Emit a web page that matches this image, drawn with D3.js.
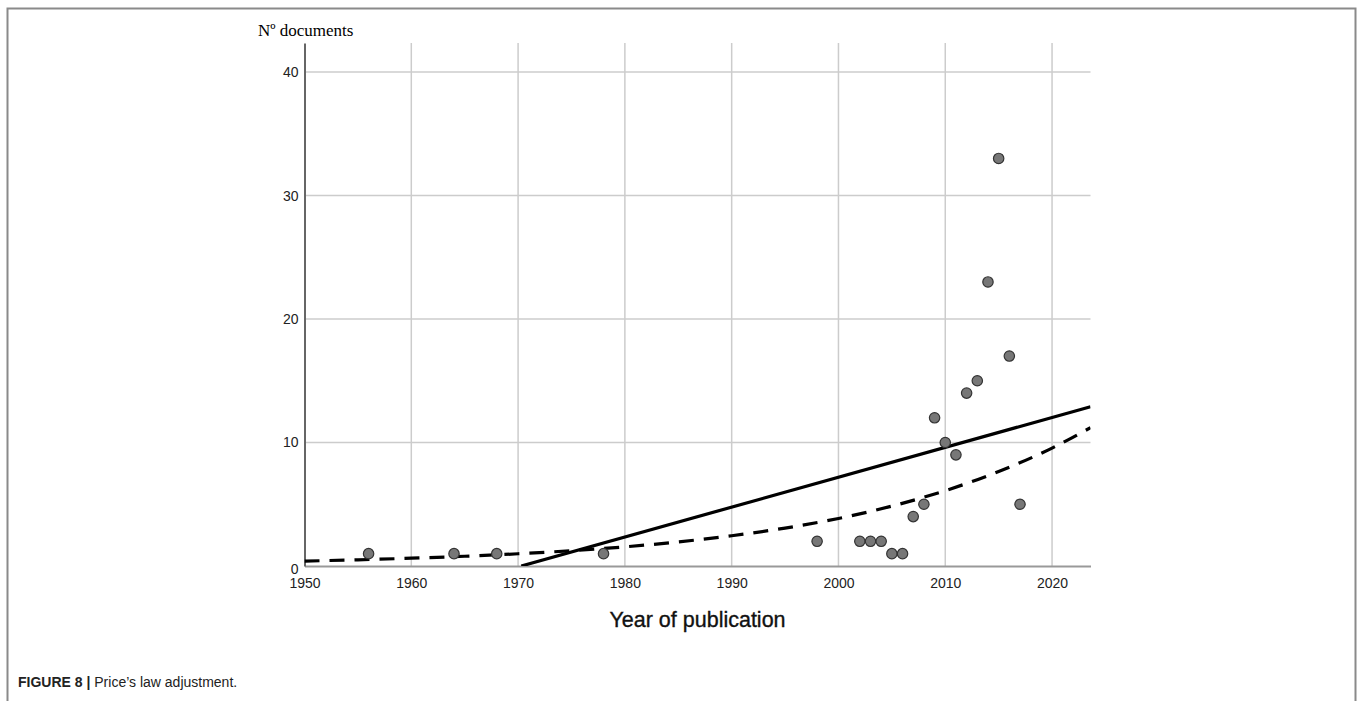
<!DOCTYPE html>
<html>
<head>
<meta charset="utf-8">
<script src="https://cdn.jsdelivr.net/npm/d3@7/dist/d3.min.js"></script>
<style>
html,body{margin:0;padding:0;background:#fff;}
svg{display:block;}
</style>
</head>
<body>
<svg id="chart" width="1360" height="701"></svg>
<script>
// Observed data points (year, number of documents)
const years = [1956,1964,1968,1978,1998,2002,2003,2004,2005,2006,2007,2008,2009,2010,2011,2012,2013,2014,2015,2016,2017];
const docs  = [1,1,1,1,2,2,2,2,1,1,4,5,12,10,9,14,15,23,33,17,5];

// Linear fit line (read endpoints)
const linYears = [1970.3, 2023.6];
const linVals  = [0, 12.9];

// Exponential fit curve
const expYears = [1950,1955,1960,1965,1970,1975,1980,1985,1990,1995,2000,2005,2010,2015,2020,2023.6];
const expVals  = [0.40,0.50,0.63,0.79,0.99,1.24,1.55,1.95,2.45,3.07,3.85,4.85,6.10,7.65,9.55,11.2];

const xTicks = [1950,1960,1970,1980,1990,2000,2010,2020];
const yTicks = [0,10,20,30,40];

(function(){
const svg = d3.select("#chart");
const pL = 304.5, pR = 1090.5, pT = 43, pB = 566;

const x = d3.scaleLinear().domain([1950, 2023.6]).range([pL, pR]);
const y = d3.scaleLinear().domain([0, 42.35]).range([pB, pT]);

// Figure frame
svg.append("path")
  .attr("d", `M7.5,701 L7.5,8.5 L1355.5,8.5 L1355.5,701`)
  .attr("fill","none").attr("stroke","#8a8a8a").attr("stroke-width",2);

// Gridlines
const g = svg.append("g");
g.selectAll(".vg").data(xTicks.filter(d=>d>1950)).join("line")
  .attr("x1",d=>x(d)).attr("x2",d=>x(d)).attr("y1",pT).attr("y2",pB)
  .attr("stroke","#cccccc").attr("stroke-width",1.5);
g.selectAll(".hg").data(yTicks.filter(d=>d>0)).join("line")
  .attr("x1",pL).attr("x2",pR).attr("y1",d=>y(d)).attr("y2",d=>y(d))
  .attr("stroke","#cccccc").attr("stroke-width",1.5);

// Axes
const xAxis = d3.axisBottom(x).tickValues(xTicks).tickSize(0).tickPadding(12).tickFormat(d3.format("d"));
const xg = svg.append("g").attr("transform",`translate(0,${pB})`).call(xAxis);
xg.select(".domain").attr("stroke","#999").attr("stroke-width",2);
xg.selectAll("text").attr("font-family","Liberation Sans, Arial, sans-serif").attr("font-size",14).attr("fill","#222");

const yAxis = d3.axisLeft(y).tickValues(yTicks).tickSize(0).tickPadding(6);
const yg = svg.append("g").attr("transform",`translate(${pL},0)`).call(yAxis);
yg.select(".domain").attr("stroke","#666").attr("stroke-width",2);
yg.selectAll("text").attr("font-family","Liberation Sans, Arial, sans-serif").attr("font-size",14).attr("fill","#222")
  .attr("dy", d => d===0 ? "0.52em" : "0.32em");

// Clip
svg.append("clipPath").attr("id","plotclip").append("rect")
  .attr("x",pL).attr("y",pT).attr("width",pR-pL).attr("height",pB-pT);

// Exponential (dashed)
svg.append("path").datum(d3.zip(expYears, expVals))
  .attr("d", d3.line().curve(d3.curveMonotoneX).x(d=>x(d[0])).y(d=>y(d[1])))
  .attr("fill","none").attr("stroke","#000").attr("stroke-width",3.2)
  .attr("stroke-dasharray","15,10").attr("clip-path","url(#plotclip)");
// Linear (solid)
svg.append("path").datum(d3.zip(linYears, linVals))
  .attr("d", d3.line().x(d=>x(d[0])).y(d=>y(d[1])))
  .attr("fill","none").attr("stroke","#000").attr("stroke-width",3.2)
  .attr("clip-path","url(#plotclip)");

// Points
svg.append("g").selectAll("circle").data(d3.zip(years, docs)).join("circle")
  .attr("cx",d=>x(d[0])).attr("cy",d=>y(d[1])).attr("r",5.2)
  .attr("fill","#777").attr("stroke","#333").attr("stroke-width",1.2);

// Titles
svg.append("text").attr("x",258).attr("y",36)
  .attr("font-family","Liberation Serif, Times New Roman, serif").attr("font-size",17).attr("fill","#000")
  .text("Nº documents");
svg.append("text").attr("x",(pL+pR)/2).attr("y",627).attr("text-anchor","middle")
  .attr("font-family","Liberation Sans, Arial, sans-serif").attr("font-size",21.5).attr("fill","#111")
  .attr("stroke","#111").attr("stroke-width",0.35)
  .text("Year of publication");

// Caption
const cap = svg.append("text").attr("x",18).attr("y",687)
  .attr("font-family","Liberation Sans, Arial, sans-serif").attr("font-size",14).attr("fill","#222");
cap.append("tspan").attr("font-weight","bold").text("FIGURE 8 | ");
cap.append("tspan").text("Price’s law adjustment.");
})();
</script>
</body>
</html>
